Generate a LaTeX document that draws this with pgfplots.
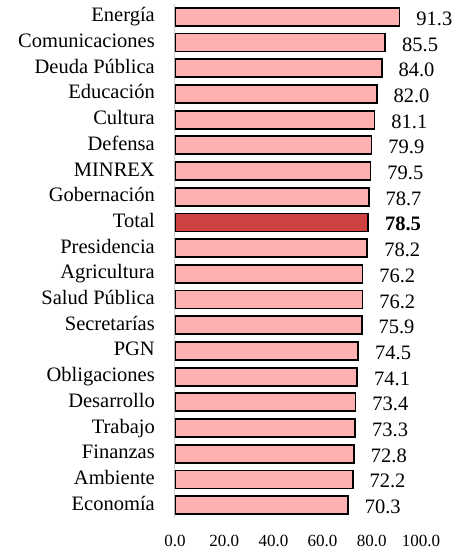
\documentclass[border=0pt]{standalone}
\usepackage{fontspec}
\setmainfont{Liberation Serif}
\usepackage{pgfplots}
\pgfplotsset{compat=1.18}
\definecolor{barpink}{RGB}{255,176,176}
\definecolor{bartotal}{RGB}{206,66,66}
\begin{document}
\begin{tikzpicture}
\begin{axis}[
 scale only axis, width=246bp, height=514bp,
 xmin=0, xmax=100, ymin=-0.5, ymax=19.5, y dir=reverse,
 xbar, bar width=0.70, bar shift=0pt,
 axis lines*=left,
 x axis line style={draw=none},
 y axis line style={draw=black!18, line width=1bp},
 major tick length=0pt,
 xtick={0,20,...,100},
 ytick={0,...,19},
 yticklabels={Energía, Comunicaciones, Deuda Pública, Educación\ , Cultura, Defensa\ , MINREX, Gobernación, Total, Presidencia, Agricultura, Salud Pública\ , Secretarías, PGN, Obligaciones\ , Desarrollo, Trabajo\ , Finanzas, Ambiente\ , Economía},
 xticklabel={\pgfmathprintnumber[fixed,fixed zerofill,precision=1,assume math mode=true]{\tick}},
 xticklabel style={font=\fontsize{17bp}{20bp}\selectfont, anchor=north, inner sep=0pt, yshift=-17bp},
 yticklabel style={font=\fontsize{20.5bp}{24bp}\selectfont, anchor=base east, inner sep=0pt, xshift=-20bp, yshift=-5bp},
 nodes near coords={\pgfmathprintnumber[fixed,fixed zerofill,precision=1,assume math mode=true]{\pgfplotspointmeta}},
 nodes near coords style={font=\fontsize{20.5bp}{24bp}\selectfont, anchor=base west, inner sep=0pt, xshift=16bp, yshift=-8.5bp, text=black},
]
\addplot[draw=black, line width=1.8bp, fill=barpink] coordinates {
 (91.3,0) (85.5,1) (84.0,2) (82.0,3) (81.1,4) (79.9,5) (79.5,6) (78.7,7)
 (78.2,9) (76.2,10) (76.2,11) (75.9,12) (74.5,13) (74.1,14) (73.4,15)
 (73.3,16) (72.8,17) (72.2,18) (70.3,19)
};
\addplot[draw=black, line width=1.8bp, fill=bartotal,
 nodes near coords={\textbf{\pgfmathprintnumber[fixed,fixed zerofill,precision=1,assume math mode=true]{\pgfplotspointmeta}}}]
 coordinates {(78.5,8)};
\end{axis}
\pgfresetboundingbox
\path ([xshift=-175bp,yshift=-35bp]current axis.south west) rectangle ([xshift=34bp,yshift=4bp]current axis.north east);
\end{tikzpicture}
\end{document}
